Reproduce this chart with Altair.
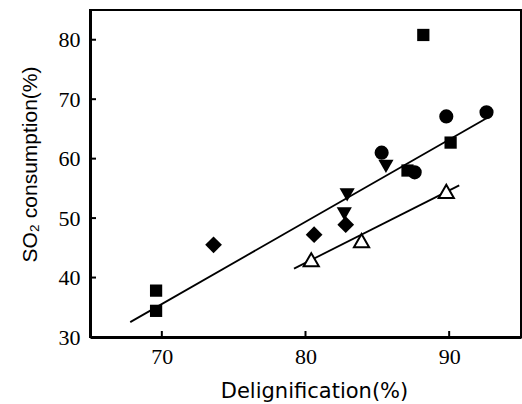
import altair as alt
import pandas as pd

# Data
sq_x = [69.6, 69.6, 88.2, 90.1, 87.1]
sq_y = [37.8, 34.4, 80.8, 62.7, 58.0]

circ_x = [85.3, 87.6, 89.8, 92.6]
circ_y = [61.0, 57.7, 67.1, 67.8]

tdown_x = [85.6, 82.9, 82.7]
tdown_y = [58.7, 53.9, 50.7]

diam_x = [73.6, 80.6, 82.8]
diam_y = [45.5, 47.2, 48.9]

tup_x = [80.4, 83.9, 89.8]
tup_y = [43.0, 46.2, 54.5]

line1_x = [67.8, 92.6]
line1_y = [32.5, 66.8]
line2_x = [79.2, 90.7]
line2_y = [41.5, 55.5]

x_ticks = [70, 80, 90]
y_ticks = [30, 40, 50, 60, 70, 80]

W, H = 431, 327
LABEL_FONT = "Liberation Serif"

xs = alt.Scale(domain=[65, 95], nice=False, zero=False)
ys = alt.Scale(domain=[30, 85], nice=False, zero=False)

x_axis = alt.Axis(values=x_ticks, ticks=False, grid=False, domainColor="black",
                  domainWidth=3, labelFont=LABEL_FONT, labelFontSize=22,
                  labelColor="black", labelPadding=9,
                  title="Delignification(%)", titleFont="DejaVu Sans",
                  titleFontSize=21, titleFontWeight="normal", titleColor="black",
                  titleX=224, titleY=54, titleBaseline="middle", titleAlign="center")
y_axis = alt.Axis(values=y_ticks, ticks=False, grid=False, domainColor="black",
                  domainWidth=3, labelFont=LABEL_FONT, labelFontSize=22,
                  labelColor="black", labelPadding=10,
                  title="SO₂ consumption(%)", titleFont="Liberation Sans",
                  titleFontSize=21, titleFontWeight="normal", titleColor="black",
                  titleX=-60, titleY=154, titleAngle=-90,
                  titleBaseline="middle", titleAlign="center")


def pts(xv, yv):
    return pd.DataFrame({"x": xv, "y": yv})


def X():
    return alt.X("x:Q", scale=xs, axis=x_axis)


def Y():
    return alt.Y("y:Q", scale=ys, axis=y_axis)


line1 = alt.Chart(pts(line1_x, line1_y)).mark_line(color="black", strokeWidth=1.8).encode(x=X(), y=Y())
line2 = alt.Chart(pts(line2_x, line2_y)).mark_line(color="black", strokeWidth=1.8).encode(x=X(), y=Y())

squares = alt.Chart(pts(sq_x, sq_y)).mark_point(shape="square", filled=True, color="black",
                                                  size=150, opacity=1).encode(x=X(), y=Y())
circles = alt.Chart(pts(circ_x, circ_y)).mark_point(shape="circle", filled=True, color="black",
                                                     size=200, opacity=1).encode(x=X(), y=Y())
tdown = alt.Chart(pts(tdown_x, tdown_y)).mark_point(shape="triangle-down", filled=True,
                                                     color="black", size=230, opacity=1).encode(x=X(), y=Y())
diamonds = alt.Chart(pts(diam_x, diam_y)).mark_point(shape="diamond", filled=True, color="black",
                                                      size=280, opacity=1).encode(x=X(), y=Y())
tup = alt.Chart(pts(tup_x, tup_y)).mark_point(shape="triangle-up", filled=True, fill="white",
                                               stroke="black", strokeWidth=2, size=230,
                                               opacity=1).encode(x=X(), y=Y())

xt = alt.Chart(pd.DataFrame({"x": x_ticks})).mark_rule(color="black", strokeWidth=2).encode(
    x=alt.X("x:Q", scale=xs, axis=x_axis), y=alt.value(H), y2=alt.value(H - 6))
yt = alt.Chart(pd.DataFrame({"y": y_ticks[1:]})).mark_rule(color="black", strokeWidth=2).encode(
    y=alt.Y("y:Q", scale=ys, axis=y_axis), x=alt.value(0), x2=alt.value(6))

chart = alt.layer(line1, line2, squares, circles, tdown, diamonds, tup, xt, yt).properties(
    width=W, height=H,
    padding={"left": 90, "top": 10, "right": 1, "bottom": 67},
    autosize=alt.AutoSizeParams(type="none"),
    background="white",
).configure_view(stroke="black", strokeWidth=2)

chart.save("out.html", embed_options={"renderer": "svg", "actions": False})
